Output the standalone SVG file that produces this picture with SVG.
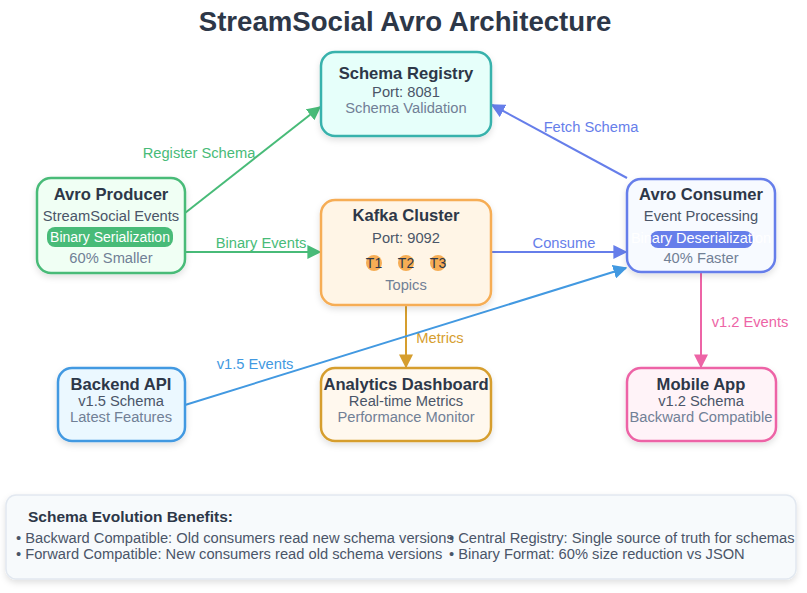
<svg xmlns="http://www.w3.org/2000/svg" width="807" height="593" viewBox="0 0 807 593">
<style>
text{font-family:"Liberation Sans",Arial,sans-serif;}
.t{font-size:16.6px;font-weight:bold;fill:#2d3748;text-anchor:middle;}
.s{font-size:14.7px;fill:#4a5568;text-anchor:middle;}
.m{font-size:14.7px;fill:#718096;text-anchor:middle;}
.box{stroke-width:2.5;}
.cl{font-size:14.7px;}
.c{fill:none;stroke-width:2;}
.b{font-size:14.7px;fill:#4a5568;}
</style>
<defs>
<filter id="sh" x="-10%" y="-10%" width="130%" height="130%">
<feDropShadow dx="0" dy="3" stdDeviation="3" flood-color="#000" flood-opacity="0.12"/>
</filter>
<marker id="ap" viewBox="0 0 10 10" markerWidth="14" markerHeight="14" refX="9" refY="5" orient="auto" markerUnits="userSpaceOnUse"><path d="M0,0 L10,5 L0,10 z" fill="#667eea"/></marker>
<marker id="ao" viewBox="0 0 10 10" markerWidth="14" markerHeight="14" refX="9" refY="5" orient="auto" markerUnits="userSpaceOnUse"><path d="M0,0 L10,5 L0,10 z" fill="#d69e2e"/></marker>
<marker id="ak" viewBox="0 0 10 10" markerWidth="14" markerHeight="14" refX="9" refY="5" orient="auto" markerUnits="userSpaceOnUse"><path d="M0,0 L10,5 L0,10 z" fill="#ed64a6"/></marker>
<marker id="ab" viewBox="0 0 10 10" markerWidth="14" markerHeight="14" refX="9" refY="5" orient="auto" markerUnits="userSpaceOnUse"><path d="M0,0 L10,5 L0,10 z" fill="#4299e1"/></marker>
<marker id="ag2" viewBox="0 0 10 10" markerWidth="14" markerHeight="14" refX="9" refY="5" orient="auto" markerUnits="userSpaceOnUse"><path d="M0,0 L10,5 L0,10 z" fill="#48bb78"/></marker>
</defs>
<rect width="807" height="593" fill="#ffffff"/>
<text x="405" y="31" font-size="27.6" font-weight="bold" fill="#2d3748" text-anchor="middle">StreamSocial Avro Architecture</text>

<g id="connectors">
<line class="c" x1="185" y1="213" x2="320" y2="107" stroke="#48bb78" marker-end="url(#ag2)"/>
<text class="cl" x="199" y="158" fill="#48bb78" text-anchor="middle">Register Schema</text>
<line class="c" x1="185" y1="252" x2="320" y2="252" stroke="#48bb78" marker-end="url(#ag2)"/>
<text class="cl" x="261" y="248" fill="#48bb78" text-anchor="middle">Binary Events</text>
<line class="c" x1="627" y1="178" x2="492" y2="105" stroke="#667eea" marker-end="url(#ap)"/>
<text class="cl" x="591" y="132" fill="#667eea" text-anchor="middle">Fetch Schema</text>
<line class="c" x1="491" y1="252" x2="626" y2="252" stroke="#667eea" marker-end="url(#ap)"/>
<text class="cl" x="564" y="248" fill="#667eea" text-anchor="middle">Consume</text>
<line class="c" x1="406" y1="305" x2="406" y2="367" stroke="#d69e2e" marker-end="url(#ao)"/>
<text class="cl" x="440" y="343" fill="#d69e2e" text-anchor="middle">Metrics</text>
<line class="c" x1="701" y1="272" x2="701" y2="367" stroke="#ed64a6" marker-end="url(#ak)"/>
<text class="cl" x="750" y="327" fill="#ed64a6" text-anchor="middle">v1.2 Events</text>
<line class="c" x1="185" y1="405" x2="626" y2="268" stroke="#4299e1" marker-end="url(#ab)"/>
<text class="cl" x="255" y="369" fill="#4299e1" text-anchor="middle">v1.5 Events</text>
</g>

<g id="schema-registry">
<rect class="box" x="321" y="52" width="170" height="84" rx="14" fill="#e6fffa" stroke="#38b2ac" filter="url(#sh)"/>
<text class="t" x="406" y="79">Schema Registry</text>
<text class="s" x="406" y="97">Port: 8081</text>
<text class="m" x="406" y="113">Schema Validation</text>
</g>

<g id="avro-producer">
<rect class="box" x="37" y="178" width="148" height="95" rx="14" fill="#f0fff4" stroke="#48bb78" filter="url(#sh)"/>
<text class="t" x="111" y="200">Avro Producer</text>
<text class="s" x="111" y="221">StreamSocial Events</text>
<rect x="47" y="227" width="126" height="20" rx="8" fill="#48bb78"/>
<text x="110" y="242" font-size="14" fill="#ffffff" text-anchor="middle">Binary Serialization</text>
<text class="m" x="111" y="263">60% Smaller</text>
</g>

<g id="kafka-cluster">
<rect class="box" x="321" y="200" width="170" height="105" rx="14" fill="#fff5e6" stroke="#f6ad55" filter="url(#sh)"/>
<text class="t" x="406" y="221">Kafka Cluster</text>
<text class="s" x="406" y="243">Port: 9092</text>
<circle cx="374" cy="263" r="8" fill="#f6ad55"/>
<circle cx="406" cy="263" r="8" fill="#f6ad55"/>
<circle cx="438" cy="263" r="8" fill="#f6ad55"/>
<text x="374" y="268" font-size="14" fill="#2d3748" text-anchor="middle">T1</text>
<text x="406" y="268" font-size="14" fill="#2d3748" text-anchor="middle">T2</text>
<text x="438" y="268" font-size="14" fill="#2d3748" text-anchor="middle">T3</text>
<text class="m" x="406" y="290">Topics</text>
</g>

<g id="avro-consumer">
<rect class="box" x="627" y="179" width="148" height="93" rx="14" fill="#f7faff" stroke="#667eea" filter="url(#sh)"/>
<text class="t" x="701" y="200">Avro Consumer</text>
<text class="s" x="701" y="221">Event Processing</text>
<rect x="650" y="231" width="103" height="17" rx="8" fill="#667eea"/>
<text x="701" y="243" font-size="14.5" fill="#ffffff" text-anchor="middle">Binary Deserialization</text>
<text class="m" x="701" y="263">40% Faster</text>
</g>

<g id="backend-api">
<rect class="box" x="58" y="368" width="127" height="73" rx="14" fill="#ebf8ff" stroke="#4299e1" filter="url(#sh)"/>
<text class="t" x="121" y="390">Backend API</text>
<text class="s" x="121" y="406">v1.5 Schema</text>
<text class="m" x="121" y="422">Latest Features</text>
</g>

<g id="analytics-dashboard">
<rect class="box" x="321" y="368" width="170" height="73" rx="14" fill="#fff8ee" stroke="#d69e2e" filter="url(#sh)"/>
<text class="t" x="406" y="390">Analytics Dashboard</text>
<text class="s" x="406" y="406">Real-time Metrics</text>
<text class="m" x="406" y="422">Performance Monitor</text>
</g>

<g id="mobile-app">
<rect class="box" x="627" y="368" width="149" height="73" rx="14" fill="#fff3f8" stroke="#ed64a6" filter="url(#sh)"/>
<text class="t" x="701" y="390">Mobile App</text>
<text class="s" x="701" y="406">v1.2 Schema</text>
<text class="m" x="701" y="422">Backward Compatible</text>
</g>

<g id="benefits">
<rect x="6" y="495" width="790" height="84" rx="10" fill="#f7fafc" stroke="#e2e8f0" stroke-width="1.5" filter="url(#sh)"/>
<text x="28" y="522" font-size="15.5" font-weight="bold" fill="#2d3748">Schema Evolution Benefits:</text>
<text class="b" x="16" y="543">• Backward Compatible: Old consumers read new schema versions</text>
<text class="b" x="16" y="559">• Forward Compatible: New consumers read old schema versions</text>
<text class="b" x="449" y="543">• Central Registry: Single source of truth for schemas</text>
<text class="b" x="449" y="559">• Binary Format: 60% size reduction vs JSON</text>
</g>
</svg>
